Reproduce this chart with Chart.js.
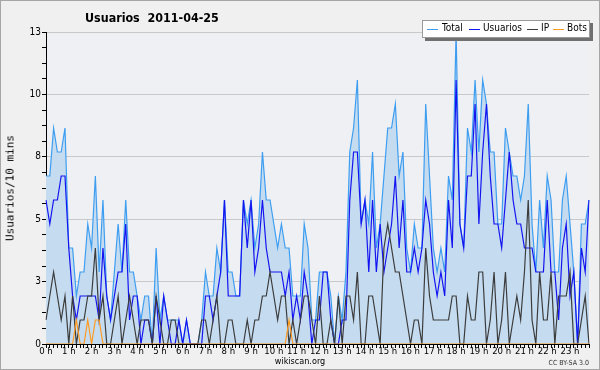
<!DOCTYPE html>
<html>
<head>
<meta charset="utf-8">
<script src="https://cdn.jsdelivr.net/npm/chart.js@4/dist/chart.umd.min.js"></script>
<style>
  html, body { margin: 0; padding: 0; background: #f0f0f0; }
  #wrap { position: relative; width: 600px; height: 370px; background: #f0f0f0; overflow: hidden;
          font-family: "DejaVu Sans Condensed", "DejaVu Sans", sans-serif; }
  #frame { position: absolute; left: 0; top: 0; width: 600px; height: 370px; box-sizing: border-box;
           border: 1px solid #a6a6a6; pointer-events: none; }
  #title { position: absolute; left: 85px; top: 10px; font-size: 12.4px; font-weight: bold; color: #000; white-space: pre; }
  #ylab { position: absolute; left: 10px; top: 188px; font-family: "DejaVu Sans Mono", monospace; font-size: 11px;
          transform: translate(-50%, -50%) rotate(-90deg); white-space: nowrap; color: #000; }
  #site { position: absolute; left: 0; width: 600px; top: 356px; text-align: center; font-size: 9px; color: #000; }
  #lic { position: absolute; right: 11px; top: 359px; font-size: 7px; color: #333; }
  #legend { position: absolute; left: 422px; top: 20px; width: 166px; height: 16px; background: #fff;
            border: 1px solid #999; box-shadow: 3px 3px 0 #707070; font-size: 10px; color: #000; }
  #legend i { position: absolute; top: 8px; width: 11px; height: 1px; }
  #legend b { position: absolute; top: 1px; font-weight: normal; white-space: nowrap; }
</style>
</head>
<body>
<div id="wrap">
  <canvas id="myChart" width="600" height="370"></canvas>
  <div id="title">Usuarios  2011-04-25</div>
  <div id="ylab">Usuarios/10 mins</div>
  <div id="site">wikiscan.org</div>
  <div id="lic">CC BY-SA 3.0</div>
  <div id="legend">
    <i style="left:4px;background:#3d9df0"></i><b style="left:19px">Total</b>
    <i style="left:46px;background:#1414f0"></i><b style="left:60px">Usuarios</b>
    <i style="left:104px;background:#3c3c3c"></i><b style="left:118px">IP</b>
    <i style="left:130px;background:#ff9a1e"></i><b style="left:144px">Bots</b>
  </div>
  <div id="frame"></div>
</div>
<script>
// 10-minute slots over the day, 0 h .. 23 h 50
const slots = [];
for (let h = 0; h < 24; h++) {
  for (let m = 0; m < 60; m += 10) slots.push(h + ':' + (m < 10 ? '0' + m : m));
}

const total = [
  7,7,9,8,8,9, 4,4,2,3,3,5, 4,7,3,6,2,1, 3,5,3,6,3,3,
  2,1,2,2,0,4, 1,2,1,1,1,1, 0,1,0,0,0,1, 3,2,2,4,3,6,
  3,3,2,2,6,5, 6,4,5,8,6,6, 5,4,5,4,4,2, 2,2,5,4,1,1,
  3,3,3,2,0,2, 1,3,8,9,11,5, 6,5,8,4,5,7, 9,9,10,7,8,4,
  3,5,4,4,10,7, 4,3,4,3,7,6, 13,5,4,9,8,11, 8,11,10,8,8,5,
  5,9,8,7,7,6, 7,10,5,3,6,4, 7,6,3,3,6,7, 5,3,0,5,5,6
];
const usuarios = [
  6,5,6,6,7,7, 4,2,1,2,2,2, 2,2,1,4,2,1, 2,3,3,5,1,2,
  2,0,1,1,0,2, 0,2,1,0,0,1, 0,1,0,0,0,0, 2,2,1,2,3,6,
  2,2,2,2,6,4, 6,3,4,6,4,3, 3,3,3,2,3,1, 2,1,3,2,0,1,
  1,3,3,1,0,0, 1,1,6,8,8,5, 6,3,6,3,5,3, 4,5,7,4,6,3,
  3,4,3,4,6,5, 3,2,3,2,6,4, 11,5,4,7,7,10, 5,8,10,7,5,5,
  4,6,8,6,5,5, 4,4,4,3,3,3, 6,3,3,1,4,5, 2,3,0,4,3,6
];
const ip = [
  1,2,3,2,1,2, 0,2,0,1,1,2, 2,4,1,2,0,0, 1,2,0,1,2,1,
  0,1,1,1,0,2, 1,0,0,1,1,0, 0,0,0,0,0,1, 1,0,1,2,0,0,
  1,1,0,0,0,1, 0,1,1,2,2,3, 2,1,2,2,0,1, 0,1,2,2,1,0,
  2,0,0,1,0,2, 0,2,2,1,3,0, 0,2,2,1,0,4, 5,4,3,3,2,1,
  0,1,1,0,4,2, 1,1,1,1,1,2, 2,0,0,2,1,1, 3,3,0,1,3,0,
  1,3,0,1,2,1, 3,6,1,0,3,1, 1,3,0,2,2,2, 3,0,0,1,2,0
];
const bots = [
  0,0,0,0,0,0, 0,0,1,0,0,1, 0,1,1,0,0,0, 0,0,0,0,0,0,
  0,0,0,0,0,0, 0,0,0,0,0,0, 0,0,0,0,0,0, 0,0,0,0,0,0,
  0,0,0,0,0,0, 0,0,0,0,0,0, 0,0,0,0,1,0, 0,0,0,0,0,0,
  0,0,0,0,0,0, 0,0,0,0,0,0, 0,0,0,0,0,0, 0,0,0,0,0,0,
  0,0,0,0,0,0, 0,0,0,0,0,0, 0,0,0,0,0,0, 0,0,0,0,0,0,
  0,0,0,0,0,0, 0,0,0,0,0,0, 0,0,0,0,0,0, 0,0,0,0,0,0
];

const plotBg = {
  id: 'plotBg',
  beforeDraw(chart) {
    const { ctx, chartArea: a } = chart;
    ctx.save();
    ctx.fillStyle = '#eef0f3';
    ctx.fillRect(a.left, a.top, a.right - a.left, a.bottom - a.top);
    ctx.restore();
  }
};

const ctx = document.getElementById('myChart');

new Chart(ctx, {
  type: 'line',
  data: {
    labels: slots,
    datasets: [
      { label: 'Total', data: total, borderColor: '#3d9df0', backgroundColor: '#c5dcf0',
        fill: 'origin', borderWidth: 1.2, order: 4 },
      { label: 'Usuarios', data: usuarios, borderColor: '#1414f0', borderWidth: 1.2, fill: false, order: 3 },
      { label: 'IP', data: ip, borderColor: '#3c3c3c', borderWidth: 1.2, fill: false, order: 2 },
      { label: 'Bots', data: bots, borderColor: '#ff9a1e', borderWidth: 1.2, fill: false, order: 1 }
    ]
  },
  options: {
    responsive: false,
    animation: false,
    devicePixelRatio: 1,
    layout: { padding: { left: 0, right: 11, top: 32, bottom: 0 } },
    elements: { point: { radius: 0 }, line: { tension: 0 } },
    plugins: { legend: { display: false }, tooltip: { enabled: false } },
    scales: {
      x: {
        z: 1,
        border: { color: '#000', width: 1 },
        grid: { drawOnChartArea: false, tickLength: 4, tickColor: '#000' },
        ticks: {
          autoSkip: false, maxRotation: 0, padding: -2, color: '#000',
          font: { family: '"DejaVu Sans Condensed", "DejaVu Sans"', size: 9.5 },
          callback: (v, i) => (i % 6 === 0 ? (i / 6) + ' h' : '')
        },
        afterFit: s => { s.height = 26; }
      },
      y: {
        min: 0, max: 13,
        border: { color: '#000', width: 1 },
        grid: {
          color: c => (c.index % 4 === 0 ? '#c9c9c9' : 'rgba(0,0,0,0)'),
          tickColor: '#000', tickLength: 4
        },
        ticks: {
          stepSize: 0.65, autoSkip: false, padding: 1, color: '#000',
          font: { family: '"DejaVu Sans Condensed", "DejaVu Sans"', size: 10 },
          callback: (v, i) => (i % 4 === 0 ? Math.round(v) : '')
        },
        afterFit: s => { s.width = 46; }
      }
    }
  },
  plugins: [plotBg]
});
</script>
</body>
</html>
